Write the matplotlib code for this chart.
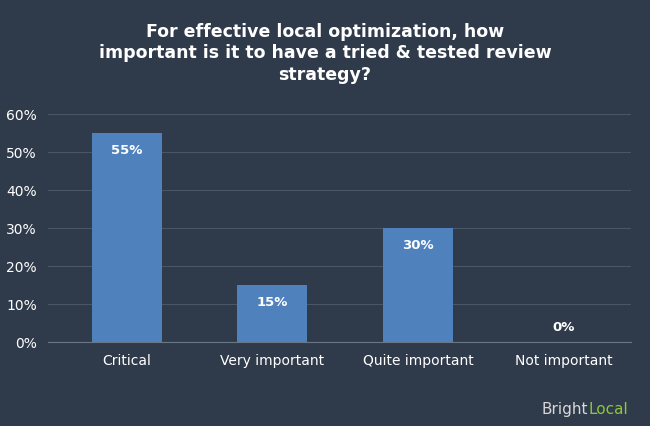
import matplotlib
matplotlib.use("Agg")
import matplotlib.pyplot as plt

categories = ["Critical", "Very important", "Quite important", "Not important"]
values = [55, 15, 30, 0]
yticks = [0, 10, 20, 30, 40, 50, 60]

bg = "#2f3a4a"
bar_color = "#4f81bd"

fig = plt.figure(figsize=(6.5, 4.27), dpi=100, facecolor=bg)
ax = fig.add_axes([0.074, 0.197, 0.896, 0.534], facecolor=bg)

x = range(len(categories))
bars = ax.bar(x, values, width=0.48, color=bar_color, zorder=3)
for xi, v in zip(x, values):
    ax.text(xi, v - 4.5 if v > 0 else 4, f"{v}%", ha="center", va="center",
            color="white", fontsize=9.5, fontweight="bold", zorder=4)

ax.set_ylim(0, 60)
ax.set_xlim(-0.54, 3.46)
ax.set_yticks(yticks)
ax.set_yticklabels([f"{t}%" for t in yticks], color="white", fontsize=10)
ax.set_xticks(list(x))
ax.set_xticklabels(categories, color="white", fontsize=10)
ax.tick_params(length=0, pad=8)
ax.grid(axis="y", color="#4a5566", linewidth=0.8, zorder=0)
for s in ax.spines.values():
    s.set_visible(False)
ax.spines["bottom"].set_visible(True)
ax.spines["bottom"].set_color("#6a7585")

fig.text(0.5, 0.875, "For effective local optimization, how\nimportant is it to have a tried & tested review\nstrategy?",
         ha="center", va="center", color="white", fontsize=12.5, fontweight="bold", linespacing=1.25)

fig.text(0.905, 0.04, "Bright", ha="right", va="center", color="#d8d8d8", fontsize=11)
fig.text(0.905, 0.04, "Local", ha="left", va="center", color="#8dc63f", fontsize=11)

fig.savefig("out.png", dpi=100, facecolor=bg)
